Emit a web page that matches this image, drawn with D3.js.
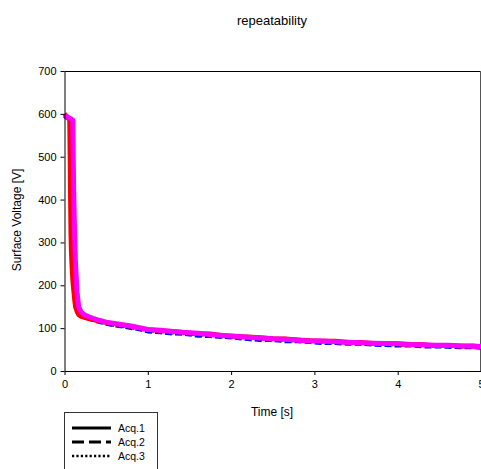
<!DOCTYPE html>
<html>
<head>
<meta charset="utf-8">
<script src="https://cdn.jsdelivr.net/npm/d3@7"></script>
<style>
  html, body { margin: 0; padding: 0; background: #fff; overflow: hidden; }
  svg { display: block; font-family: "Liberation Sans", Arial, sans-serif; }
</style>
</head>
<body>
<svg id="chart" width="481" height="469"></svg>
<script>
// ---- data ----
const titleText = "repeatability";
const xLabel = "Time [s]";
const yLabel = "Surface Voltage [V]";
const xTicks = [0, 1, 2, 3, 4, 5];
const yTicks = [0, 100, 200, 300, 400, 500, 600, 700];
const legendNames = ["Acq.1", "Acq.2", "Acq.3"];

const tail = [0.2, 0.25, 0.3, 0.4, 0.5, 0.6, 0.7, 0.8, 0.9, 1.0, 1.15, 1.3, 1.45, 1.6, 1.75, 1.9, 2.05, 2.2, 2.35, 2.5, 2.65, 2.8, 2.95, 3.1, 3.25, 3.4, 3.55, 3.7, 3.85, 4.0, 4.15, 4.3, 4.45, 4.6, 4.75, 4.9, 5.0];

const acq1T = [0, 0.02, 0.04, 0.06, 0.07, 0.08, 0.085, 0.09, 0.1, 0.11, 0.12, 0.13, 0.15, 0.17].concat(tail);
const acq1V = [596, 593, 591, 589, 585, 565, 520, 460, 360, 285, 235, 200, 160, 142,
  134, 128, 124, 117, 112, 108, 105, 102, 99, 95, 93, 90, 88, 86, 84, 81, 80, 78, 76, 75, 73, 71, 70, 69, 68, 66, 66, 64, 63, 62, 61, 61, 60, 59, 58, 58, 57];

const acq2T = [0, 0.02, 0.04, 0.06, 0.08, 0.09, 0.095, 0.1, 0.11, 0.12, 0.13, 0.15, 0.17].concat(tail);
const acq2V = [595, 593, 590, 589, 587, 586, 560, 470, 370, 300, 240, 175, 146,
  133, 127, 122, 116, 111, 107, 104, 101, 98, 93, 91, 88, 87, 83, 82, 80, 78, 75, 73, 73, 70, 70, 68, 66, 66, 64, 64, 62, 61, 60, 60, 58, 58, 57, 56, 56, 55];

const acq3T = [0, 0.02, 0.04, 0.06, 0.065, 0.07, 0.075, 0.08, 0.09, 0.1, 0.11, 0.12, 0.13, 0.15, 0.17].concat(tail);
const acq3V = [600, 596, 592, 586, 500, 400, 320, 280, 235, 205, 185, 165, 150, 138, 131,
  127, 124, 121, 117, 113, 110, 107, 104, 100, 97, 94, 93, 90, 87, 87, 83, 81, 80, 78, 76, 75, 73, 71, 70, 70, 67, 67, 65, 65, 63, 62, 62, 59, 60, 58, 59, 57];

const acq4T = [0, 0.02, 0.04, 0.06, 0.08, 0.1, 0.105, 0.11, 0.12, 0.13, 0.15, 0.17].concat(tail);
const acq4V = [597, 594, 592, 590, 588, 585, 500, 420, 330, 260, 185, 150,
  137, 130, 126, 119, 114, 111, 108, 105, 101, 97, 95, 92, 90, 88, 85, 83, 81, 79, 77, 75, 74, 72, 70, 70, 68, 67, 66, 65, 64, 64, 62, 61, 60, 60, 59, 58, 57];

const seriesT = [acq1T, acq2T, acq3T, acq4T];
const seriesV = [acq1V, acq2V, acq3V, acq4V];
const seriesColors = ["#000000", "#0000ff", "#ff0000", "#ff00ff"];

// ---- drawing ----
const svg = d3.select("#chart");
const mLeft = 64.5, mRight = 481, mTop = 71, mBottom = 371;

const x = d3.scaleLinear().domain([0, 5]).range([mLeft, mRight]);
const y = d3.scaleLinear().domain([0, 700]).range([mBottom, mTop]);

// title
svg.append("text").attr("x", 272).attr("y", 25).attr("text-anchor", "middle")
  .attr("font-size", 13).attr("fill", "#000").text(titleText);

// frame (top & right)
svg.append("line").attr("x1", mLeft).attr("x2", 480.5).attr("y1", mTop + 0.5).attr("y2", mTop + 0.5)
  .attr("stroke", "#000").attr("stroke-width", 1);
svg.append("line").attr("x1", 480.5).attr("x2", 480.5).attr("y1", mTop).attr("y2", mBottom)
  .attr("stroke", "#555").attr("stroke-width", 1);

// series
const line = d3.line().x(d => x(d[0])).y(d => y(d[1]));
const dashes = ["2.5,2.5", "7,3", null, null];
const widths = [4, 4.5, 4.5, 5];
seriesT.forEach((ts, i) => {
  const pts = ts.map((t, j) => [t, seriesV[i][j]]);
  const p = svg.append("path").datum(pts).attr("d", line)
    .attr("fill", "none").attr("stroke", seriesColors[i])
    .attr("stroke-width", widths[i]).attr("stroke-linejoin", "round");
  if (dashes[i]) p.attr("stroke-dasharray", dashes[i]);
});

// axes
const xAxis = d3.axisBottom(x).tickValues(xTicks).tickFormat(d3.format("d"))
  .tickSizeInner(4).tickSizeOuter(0).tickPadding(5);
const yAxis = d3.axisLeft(y).tickValues(yTicks).tickFormat(d3.format("d"))
  .tickSizeInner(4).tickSizeOuter(0).tickPadding(4);

const gx = svg.append("g").attr("transform", `translate(0,${mBottom})`).call(xAxis);
const gy = svg.append("g").attr("transform", `translate(${mLeft},0)`).call(yAxis);
[gx, gy].forEach(g => {
  g.selectAll("text").attr("font-size", 11).attr("fill", "#000").attr("font-family", "Liberation Sans, Arial, sans-serif");
  g.selectAll("line").attr("stroke", "#000");
  g.select(".domain").attr("stroke", "#000");
});

// axis labels
svg.append("text").attr("x", 272).attr("y", 416).attr("text-anchor", "middle")
  .attr("font-size", 12).attr("fill", "#000").text(xLabel);
svg.append("text").attr("transform", "translate(21,220) rotate(-90)").attr("text-anchor", "middle")
  .attr("font-size", 12).attr("fill", "#000").text(yLabel);

// legend (box extends past the bottom edge, as in the reference)
const lg = svg.append("g");
lg.append("rect").attr("x", 64.5).attr("y", 412.5).attr("width", 93).attr("height", 70)
  .attr("fill", "#fff").attr("stroke", "#333").attr("stroke-width", 1);
const legDash = [null, "12,5", "2.2,2.2"];
const legW = [3, 3, 2.5];
legendNames.forEach((name, i) => {
  const ly = 428 + i * 14;
  const l = lg.append("line").attr("x1", 72).attr("x2", 111).attr("y1", ly).attr("y2", ly)
    .attr("stroke", "#000").attr("stroke-width", legW[i]);
  if (legDash[i]) l.attr("stroke-dasharray", legDash[i]);
  lg.append("text").attr("x", 118).attr("y", ly + 4).attr("font-size", 10.5).attr("fill", "#000").text(name);
});
</script>
</body>
</html>
